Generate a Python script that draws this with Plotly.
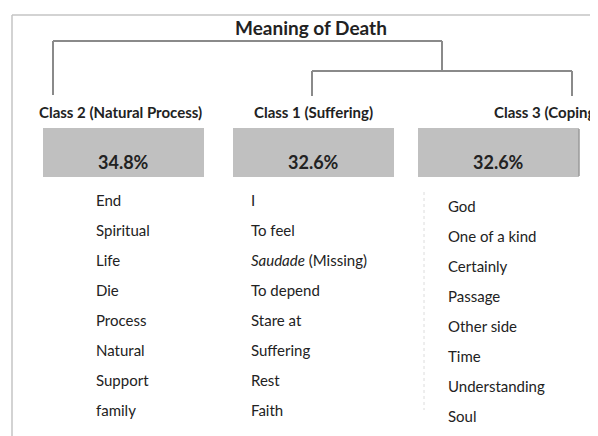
import plotly.graph_objects as go

# ---- data ----
title = "Meaning of Death"
class_labels = ["Class 2 (Natural Process)", "Class 1 (Suffering)", "Class 3 (Coping)"]
class_share = [34.8, 32.6, 32.6]
words_class2 = ["End", "Spiritual", "Life", "Die", "Process", "Natural", "Support", "family"]
words_class1 = ["I", "To feel", "<i>Saudade</i> (Missing)", "To depend", "Stare at", "Suffering", "Rest", "Faith"]
words_class3 = ["God", "One of a kind", "Certainly", "Passage", "Other side", "Time", "Understanding", "Soul"]

# ---- layout constants (page-pixel coordinates) ----
W, H = 598, 436
PAD = 8  # page body margin around the plot
FONT = "Lato, 'Open Sans', sans-serif"
TXT = "#222222"
LINE = "#8a8a8a"

box_x = [(43, 204), (233, 394), (418, 579)]
box_y = (128, 177)
label_x = [120, 313, 492]
label_anchor = ["center", "center", "left"]
word_x = [96, 251, 448]
word_y0 = [202, 202, 208]
word_dy = 30

fig = go.Figure()

shapes = []
# frame (left & top edges)
shapes.append(dict(type="line", x0=12, x1=W + 5, y0=15, y1=15, line=dict(color="#c4c4c4", width=1.5)))
shapes.append(dict(type="line", x0=12, x1=12, y0=15, y1=H + 5, line=dict(color="#c4c4c4", width=1.5)))

# dendrogram
tree = [
    (53, 41, 442, 41), (53, 41, 53, 95), (442, 41, 442, 71),
    (312, 71, 572, 71), (312, 71, 312, 96), (572, 71, 572, 96),
]
for x0, y0, x1, y1 in tree:
    shapes.append(dict(type="line", x0=x0, y0=y0, x1=x1, y1=y1, line=dict(color=LINE, width=2)))

# boxes
for (bx0, bx1) in box_x:
    shapes.append(dict(type="rect", x0=bx0, x1=bx1, y0=box_y[0], y1=box_y[1],
                       fillcolor="#c0c0c0", line=dict(width=0), layer="below"))
shapes.append(dict(type="line", x0=579, x1=579, y0=129, y1=176, line=dict(color="#9a9a9a", width=1.5)))

# faint dotted guide in column 3
shapes.append(dict(type="line", x0=424, x1=424, y0=192, y1=410,
                   line=dict(color="#dcdcdc", width=1, dash="dot")))

# class labels and shares
annotations = [dict(x=311, y=27, text="<b>" + title + "</b>", showarrow=False,
                    font=dict(family=FONT, size=19, color=TXT), xanchor="center", yanchor="middle")]
for i, lab in enumerate(class_labels):
    annotations.append(dict(x=label_x[i], y=112, text="<b>" + lab + "</b>", showarrow=False,
                            font=dict(family=FONT, size=15, color=TXT),
                            xanchor=label_anchor[i], yanchor="middle"))
    cx = (box_x[i][0] + box_x[i][1]) / 2
    annotations.append(dict(x=cx, y=162, text="<b>%.1f%%</b>" % class_share[i], showarrow=False,
                            font=dict(family=FONT, size=18, color=TXT), xanchor="center", yanchor="middle"))

# word lists
for i, words in enumerate([words_class2, words_class1, words_class3]):
    fig.add_trace(go.Scatter(
        x=[word_x[i]] * len(words),
        y=[word_y0[i] + k * word_dy for k in range(len(words))],
        mode="text", text=words, textposition="middle right",
        textfont=dict(family=FONT, size=15, color=TXT),
        hoverinfo="skip", showlegend=False, cliponaxis=False))

fig.update_layout(
    width=W - PAD, height=H - PAD, margin=dict(l=0, r=0, t=0, b=0),
    paper_bgcolor="white", plot_bgcolor="white",
    xaxis=dict(range=[PAD, W], visible=False, fixedrange=True),
    yaxis=dict(range=[H, PAD], visible=False, fixedrange=True),
    shapes=shapes, annotations=annotations, showlegend=False,
)
fig.write_html("out.html")
